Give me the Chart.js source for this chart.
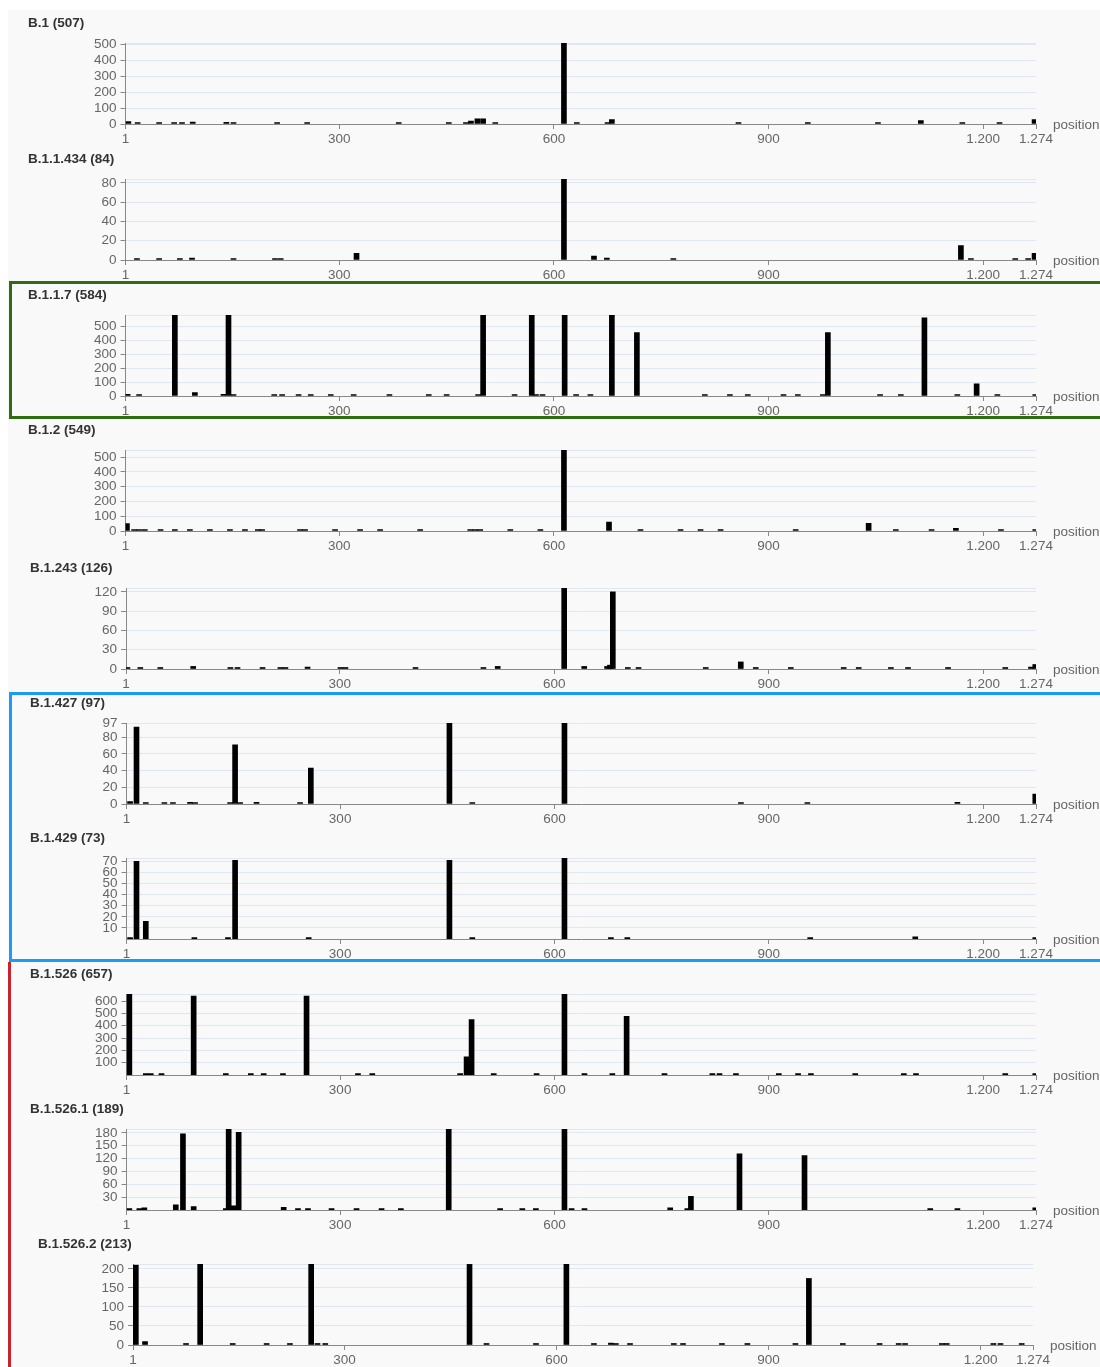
<!DOCTYPE html>
<html>
<head>
<meta charset="utf-8">
<script src="https://cdn.jsdelivr.net/npm/chart.js@4.4.1/dist/chart.umd.min.js"></script>
<style>
  body { margin: 0; background: #fff; }
  #page { position: relative; width: 1100px; height: 1367px; overflow: hidden; }
  .bg { position: absolute; background: #f9f9f9; }
  .panel { position: absolute; left: 0; width: 1100px; height: 141px; }
  .panel canvas { position: absolute; left: 0; top: 0; }
  .title { position: absolute; font: bold 13.5px "Liberation Sans", Arial, sans-serif; color: #333; line-height: 16px; white-space: nowrap; }
  .box { position: absolute; box-sizing: border-box; }
</style>
</head>
<body>
<div id="page">
  <div class="bg" style="left:8px; top:10px; width:1092px; height:1357px;"></div>
</div>
<script>
const xTickValues = [1, 300, 600, 900, 1200, 1274];
const xTickLabels = ["1", "300", "600", "900", "1.200", "1.274"];

// B.1 (507)
const b1Pos = [5, 18, 48, 69, 80, 95, 142, 152, 213, 255, 383, 453, 477, 484, 493, 501, 518, 614, 632, 675, 681, 858, 955, 1053, 1113, 1171, 1223, 1272];
const b1Counts = [15, 4, 2, 4, 8, 12, 10, 9, 6, 6, 2, 8, 6, 18, 32, 33, 2, 507, 2, 3, 28, 6, 4, 2, 22, 4, 2, 27];
const b1Ticks = [0, 100, 200, 300, 400, 500];

// B.1.1.434 (84)
const b11434Pos = [17, 48, 77, 94, 152, 210, 218, 324, 614, 656, 674, 767, 1169, 1183, 1245, 1263, 1272];
const b11434Counts = [1, 1, 1, 2, 1, 1, 1, 7, 84, 4, 2, 1, 15, 1, 1, 1, 7];
const b11434Ticks = [0, 20, 40, 60, 80];

// B.1.1.7 (584)
const b117Pos = [4, 20, 70, 98, 138, 145, 152, 209, 220, 243, 260, 288, 320, 370, 425, 450, 494, 501, 545, 569, 575, 584, 615, 631, 651, 681, 716, 811, 846, 871, 921, 941, 976, 983, 1056, 1085, 1118, 1164, 1191, 1220, 1273];
const b117Counts = [12, 2, 584, 25, 12, 584, 3, 4, 2, 3, 2, 2, 2, 3, 2, 2, 3, 584, 2, 584, 5, 2, 584, 2, 2, 582, 457, 2, 3, 2, 2, 3, 2, 457, 2, 7, 564, 6, 88, 4, 10];
const b117Ticks = [0, 100, 200, 300, 400, 500];

// B.1.2 (549)
const b12Pos = [3, 13, 20, 28, 50, 70, 91, 119, 147, 168, 186, 192, 245, 252, 294, 329, 357, 413, 483, 490, 497, 539, 581, 614, 677, 721, 777, 805, 833, 938, 1040, 1078, 1128, 1162, 1225, 1273];
const b12Counts = [50, 10, 8, 5, 3, 2, 4, 2, 3, 3, 6, 5, 4, 4, 2, 2, 3, 2, 5, 6, 4, 2, 3, 549, 60, 2, 2, 2, 3, 3, 52, 10, 2, 18, 2, 3];
const b12Ticks = [0, 100, 200, 300, 400, 500];

// B.1.243 (126)
const b1243Pos = [3, 21, 49, 95, 147, 157, 192, 217, 224, 255, 301, 308, 406, 501, 521, 614, 642, 674, 678, 682, 703, 718, 812, 861, 882, 931, 1005, 1026, 1071, 1095, 1151, 1231, 1267, 1273];
const b1243Counts = [2, 2, 1, 4, 2, 2, 1, 2, 2, 3, 1, 1, 1, 2, 4, 126, 4, 4, 6, 120, 1, 2, 1, 11, 1, 1, 1, 1, 2, 1, 1, 1, 3, 7];
const b1243Ticks = [0, 30, 60, 90, 120];

// B.1.427 (97)
const b1427Pos = [6, 15, 28, 54, 66, 90, 97, 146, 153, 160, 183, 244, 259, 453, 485, 614, 861, 954, 1164, 1273];
const b1427Counts = [3, 92, 1, 1, 1, 2, 1, 1, 71, 1, 2, 1, 43, 97, 1, 97, 1, 1, 2, 12];
const b1427Ticks = [0, 20, 40, 60, 80, 97];

// B.1.429 (73)
const b1429Pos = [6, 15, 28, 96, 143, 153, 256, 453, 485, 614, 679, 702, 958, 1105, 1273];
const b1429Counts = [1, 70, 16, 1, 1, 71, 1, 71, 1, 73, 1, 1, 1, 2, 1];
const b1429Ticks = [10, 20, 30, 40, 50, 60, 70];

// B.1.526 (657)
const b1526Pos = [5, 28, 35, 50, 95, 140, 175, 193, 220, 253, 325, 345, 468, 477, 484, 515, 575, 614, 642, 681, 701, 754, 821, 831, 854, 914, 941, 959, 1021, 1089, 1106, 1231, 1273];
const b1526Counts = [654, 4, 3, 3, 640, 2, 2, 3, 2, 640, 2, 2, 3, 148, 449, 2, 2, 657, 3, 3, 476, 2, 2, 2, 2, 2, 3, 3, 2, 3, 3, 4, 12];
const b1526Ticks = [100, 200, 300, 400, 500, 600];

// B.1.526.1 (189)
const b15261Pos = [5, 19, 26, 70, 80, 95, 140, 144, 151, 158, 221, 241, 255, 288, 323, 358, 385, 452, 524, 555, 574, 614, 624, 642, 762, 786, 791, 859, 950, 1126, 1164, 1273];
const b15261Counts = [3, 2, 5, 12, 178, 8, 3, 188, 10, 181, 6, 1, 1, 1, 1, 1, 1, 189, 1, 1, 1, 188, 1, 1, 5, 1, 32, 131, 127, 1, 2, 5];
const b15261Ticks = [30, 60, 90, 120, 150, 180];

// B.1.526.2 (213)
const b15262Pos = [5, 18, 76, 96, 142, 190, 223, 253, 262, 273, 477, 501, 571, 614, 653, 677, 684, 704, 766, 779, 834, 870, 938, 957, 1005, 1057, 1084, 1093, 1145, 1152, 1218, 1228, 1258];
const b15262Counts = [210, 9, 2, 213, 1, 1, 1, 213, 4, 2, 212, 1, 1, 213, 3, 5, 2, 1, 1, 1, 1, 2, 1, 175, 1, 1, 2, 2, 1, 1, 2, 2, 3];
const b15262Ticks = [0, 50, 100, 150, 200];

const panels = [
    { name: "B.1", total: 507, pos: b1Pos, counts: b1Counts, ticks: b1Ticks, top: 43, left: 125.5, right: 1036, titleX: 28 },
    { name: "B.1.1.434", total: 84, pos: b11434Pos, counts: b11434Counts, ticks: b11434Ticks, top: 179, left: 125.5, right: 1036, titleX: 28 },
    { name: "B.1.1.7", total: 584, pos: b117Pos, counts: b117Counts, ticks: b117Ticks, top: 314.5, left: 125.5, right: 1036, titleX: 28 },
    { name: "B.1.2", total: 549, pos: b12Pos, counts: b12Counts, ticks: b12Ticks, top: 450, left: 125.5, right: 1036, titleX: 28 },
    { name: "B.1.243", total: 126, pos: b1243Pos, counts: b1243Counts, ticks: b1243Ticks, top: 588, left: 126, right: 1036, titleX: 30 },
    { name: "B.1.427", total: 97, pos: b1427Pos, counts: b1427Counts, ticks: b1427Ticks, top: 723, left: 126.5, right: 1036, titleX: 30 },
    { name: "B.1.429", total: 73, pos: b1429Pos, counts: b1429Counts, ticks: b1429Ticks, top: 858, left: 126.5, right: 1036, titleX: 30 },
    { name: "B.1.526", total: 657, pos: b1526Pos, counts: b1526Counts, ticks: b1526Ticks, top: 993.5, left: 126.5, right: 1036, titleX: 30 },
    { name: "B.1.526.1", total: 189, pos: b15261Pos, counts: b15261Counts, ticks: b15261Ticks, top: 1129, left: 126.5, right: 1036, titleX: 30 },
    { name: "B.1.526.2", total: 213, pos: b15262Pos, counts: b15262Counts, ticks: b15262Ticks, top: 1264, left: 133, right: 1033, titleX: 38 },
];

const fontFamily = '"Liberation Sans", Arial, Helvetica, sans-serif';
const axisGray = "#888";
const labelGray = "#666";

const positionLabel = {
    id: "positionLabel",
    afterDraw(chart) {
        const { ctx, chartArea } = chart;
        ctx.save();
        ctx.font = "13.5px " + fontFamily;
        ctx.fillStyle = labelGray;
        ctx.textBaseline = "middle";
        ctx.textAlign = "left";
        ctx.fillText("position", chartArea.right + 17, chartArea.bottom + 1);
        ctx.restore();
    },
};

const page = document.getElementById("page");

panels.forEach((p) => {
    const div = document.createElement("div");
    div.className = "panel";
    div.style.top = (p.top - 34) + "px";
    const canvas = document.createElement("canvas");
    canvas.width = 1100;
    canvas.height = 141;
    div.appendChild(canvas);
    page.appendChild(div);

    const title = document.createElement("div");
    title.className = "title";
    title.style.left = p.titleX + "px";
    title.style.top = (p.top - 28) + "px";
    title.textContent = p.name + " (" + p.total + ")";
    page.appendChild(title);

    const yTickList = p.ticks.includes(p.total) ? p.ticks : p.ticks.concat([p.total]);

    new Chart(canvas.getContext("2d"), {
        type: "bar",
        data: {
            datasets: [
                {
                    data: p.pos.map((x, j) => ({ x: x, y: p.counts[j] })),
                    backgroundColor: "#000",
                    borderWidth: 0,
                    barThickness: 5,
                    minBarLength: 1.5,
                },
            ],
        },
        options: {
            responsive: false,
            animation: false,
            events: [],
            layout: {
                padding: { top: 34, right: 1100 - p.right, bottom: 0, left: 0 },
            },
            scales: {
                x: {
                    type: "linear",
                    min: 1,
                    max: 1274,
                    offset: false,
                    grid: {
                        offset: false,
                        drawOnChartArea: false,
                        drawTicks: true,
                        tickLength: 5,
                        tickColor: axisGray,
                    },
                    border: { display: true, color: axisGray, width: 1 },
                    ticks: {
                        autoSkip: false,
                        maxRotation: 0,
                        padding: 2,
                        color: labelGray,
                        font: { family: fontFamily, size: 13.5 },
                        callback: (v, i) => xTickLabels[i],
                    },
                    afterBuildTicks: (s) => {
                        s.ticks = xTickValues.map((v) => ({ value: v }));
                    },
                    afterFit: (s) => {
                        s.height = 26;
                    },
                },
                y: {
                    type: "linear",
                    min: 0,
                    max: p.total,
                    grid: {
                        color: "#dfe7f2",
                        lineWidth: 1,
                        drawTicks: true,
                        tickLength: 5,
                        tickColor: (ctx) => (ctx.tick && p.ticks.includes(ctx.tick.value) ? axisGray : "rgba(0,0,0,0)"),
                    },
                    border: { display: true, color: axisGray, width: 1 },
                    ticks: {
                        autoSkip: false,
                        padding: 4,
                        color: labelGray,
                        font: { family: fontFamily, size: 13.5 },
                        callback: (v) => (p.ticks.includes(v) ? String(v) : ""),
                    },
                    afterBuildTicks: (s) => {
                        s.ticks = yTickList.map((v) => ({ value: v }));
                    },
                    afterFit: (s) => {
                        s.width = p.left;
                    },
                },
            },
            plugins: {
                legend: { display: false },
                tooltip: { enabled: false },
            },
        },
        plugins: [positionLabel],
    });
});

// group frames
const frames = [
    { left: 9, top: 281, width: 1200, height: 138, border: "3px solid #2f6d12" },
    { left: 9, top: 691.5, width: 1200, height: 270.5, border: "3px solid #1a9bf6" },
];
frames.forEach((f) => {
    const d = document.createElement("div");
    d.className = "box";
    d.style.left = f.left + "px";
    d.style.top = f.top + "px";
    d.style.width = f.width + "px";
    d.style.height = f.height + "px";
    d.style.border = f.border;
    page.appendChild(d);
});
const redBar = document.createElement("div");
redBar.className = "box";
redBar.style.cssText = "left:8px; top:962px; width:3px; height:420px; background:#c9212d;";
page.appendChild(redBar);
</script>
</body>
</html>
